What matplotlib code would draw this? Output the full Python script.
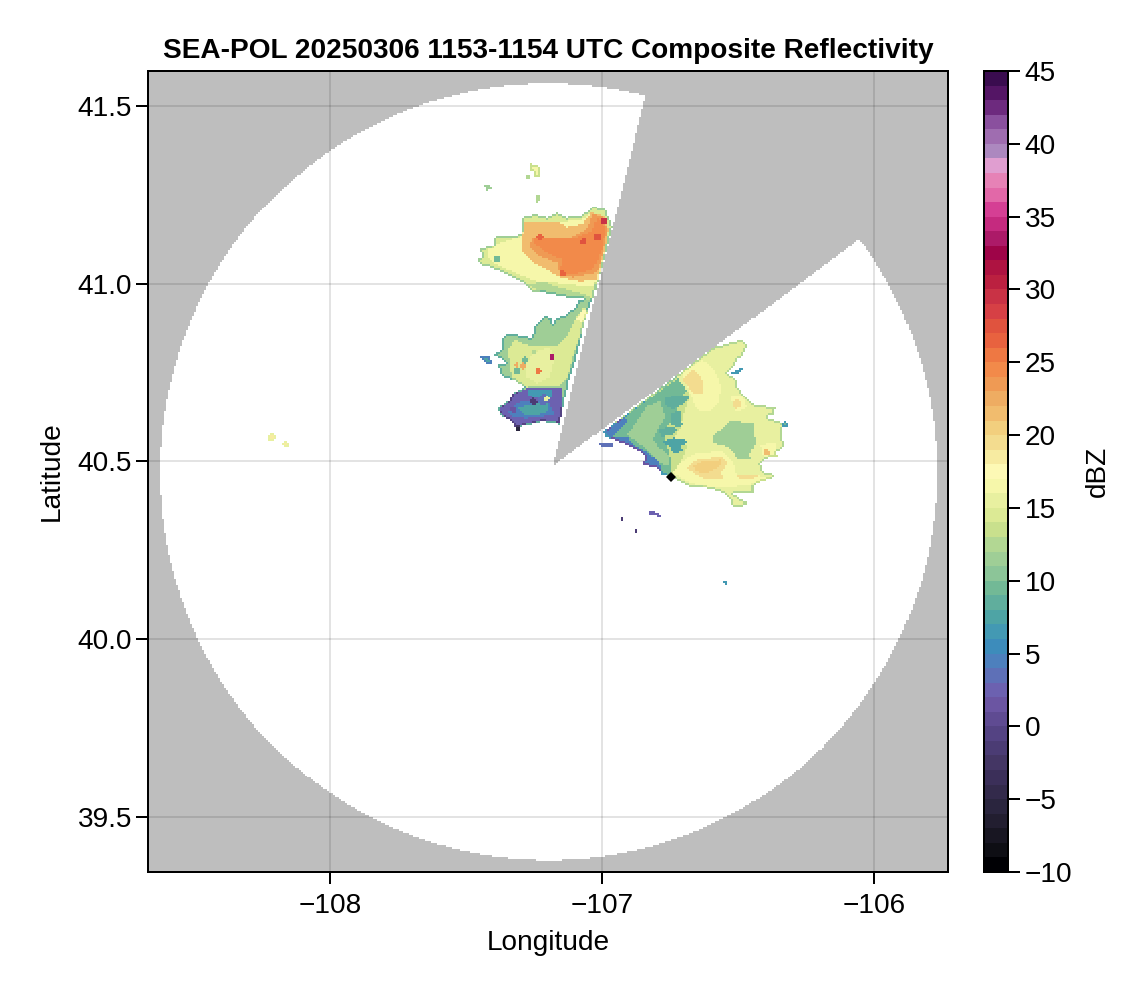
import numpy as np
import matplotlib
matplotlib.use("Agg")
import matplotlib.pyplot as plt
from matplotlib.colors import ListedColormap, BoundaryNorm
from matplotlib.path import Path

plt.rcParams['font.family'] = ['Liberation Sans', 'DejaVu Sans']

TITLE = "SEA-POL 20250306 1153-1154 UTC Composite Reflectivity"
X_TICKS = [-108, -107, -106]
Y_TICKS = [39.5, 40.0, 40.5, 41.0, 41.5]
CB_TICKS = list(range(-10, 50, 5))
XLIM = (-108.669, -105.728)
YLIM = (39.344, 41.5986)

# colour per 1 dBZ bin, from -10 up to 45
BIN_COLORS = [
    "#000004", "#0e0e14", "#181622", "#221e30", "#2a253e",
    "#332a4b", "#3b2f59", "#443664", "#4b3c74", "#544383",
    "#5f4b92", "#6b55a2", "#6c61b0", "#5e70b7", "#4d80bd",
    "#3d8cbb", "#4399b3", "#4ea4a5", "#60ae9d", "#72b996",
    "#8cc598", "#9fce96", "#b2d793", "#c9e08d", "#dcea95",
    "#e8f0a0", "#f6f7aa", "#fdf9b5", "#f7eba1", "#f3dc8f",
    "#f2cf7e", "#f1bc6e", "#eeac62", "#ef9a54", "#f28a4a",
    "#ee7843", "#e8623f", "#e0533e", "#d64045", "#c93245",
    "#bb2040", "#ae1341", "#9e0448", "#ac1a68", "#c52a7f",
    "#d53f94", "#e268a8", "#e682b6", "#e09ed0", "#ac88bf",
    "#9f6db0", "#8a509e", "#6d2a7e", "#541565", "#3a0c4f",
]
DBZ_EDGES = np.arange(-10, 46)

# radar coverage
RADAR_LON, RADAR_LAT = -107.197, 40.47
RANGE_LON, RANGE_LAT = 1.428, 1.093
BLOCK_LON = [-107.180, -106.774, -105.60, -105.60, -105.835]
BLOCK_LAT = [40.487, 41.735, 41.735, 41.248, 41.248]

# north cell
n_base_lon = [-107.033,-106.989,-106.963,-107.033,-107.069,-107.118,-107.165,-107.217,-107.257,-107.290,-107.327,-107.375,-107.419,-107.449,-107.456,-107.438,-107.456,-107.401,-107.401,-107.338,-107.294,-107.290,-107.246,-107.202,-107.165,-107.129,-107.074]
n_base_lat = [41.217,41.208,41.158,40.955,40.960,40.963,40.969,40.977,40.977,41.003,41.017,41.034,41.048,41.054,41.068,41.076,41.101,41.104,41.130,41.132,41.138,41.186,41.194,41.186,41.200,41.186,41.189]
n_low_lon = [-107.272,-107.217,-107.154,-107.044,-107.037,-107.118,-107.217]
n_low_lat = [40.997,41.006,40.989,40.966,40.955,40.961,40.975]
n_pale_lon = [-107.033,-106.982,-107.026,-107.107,-107.180,-107.239,-107.301,-107.364,-107.404,-107.423,-107.423,-107.386,-107.338,-107.290,-107.283,-107.202,-107.129,-107.070]
n_pale_lat = [41.203,41.152,40.992,40.997,41.003,41.006,41.025,41.045,41.059,41.076,41.096,41.110,41.124,41.132,41.175,41.175,41.175,41.180]
n_lt_lon = [-107.037,-106.989,-106.978,-106.989,-107.015,-107.081,-107.154,-107.202,-107.254,-107.290,-107.294,-107.283,-107.235,-107.165,-107.129,-107.070]
n_lt_lat = [41.200,41.189,41.152,41.104,41.011,41.006,41.017,41.039,41.059,41.087,41.132,41.175,41.175,41.175,41.158,41.166]
n_or_lon = [-107.033,-106.996,-106.982,-106.996,-107.018,-107.107,-107.154,-107.165,-107.228,-107.265,-107.257,-107.165,-107.107,-107.055]
n_or_lat = [41.194,41.186,41.152,41.096,41.031,41.017,41.031,41.059,41.076,41.104,41.130,41.130,41.130,41.152]
n_dk_lon = [-107.015,-106.989,-107.000,-107.033,-107.118,-107.154,-107.143,-107.191,-107.246,-107.254,-107.191,-107.099,-107.037]
n_dk_lat = [41.186,41.158,41.096,41.039,41.025,41.039,41.068,41.082,41.110,41.130,41.127,41.127,41.146]
t1_lon = [-107.261,-107.232,-107.228,-107.246,-107.250,-107.261]
t1_lat = [41.338,41.335,41.301,41.301,41.318,41.318]
t2_lon = [-107.283,-107.272,-107.261,-107.272]
t2_lat = [41.299,41.313,41.299,41.293]
t3_lon = [-107.434,-107.419,-107.408,-107.423]
t3_lat = [41.279,41.282,41.270,41.262]
t4_lon = [-107.243,-107.224,-107.232,-107.239]
t4_lat = [41.251,41.248,41.231,41.231]

# middle cell
m_base_lon = [-107.081,-107.037,-107.063,-107.099,-107.118,-107.136,-107.143,-107.154,-107.217,-107.265,-107.320,-107.331,-107.375,-107.382,-107.338,-107.327,-107.290,-107.283,-107.309,-107.357,-107.375,-107.382,-107.357,-107.338,-107.364,-107.401,-107.368,-107.364,-107.349,-107.309,-107.257,-107.246,-107.210,-107.184,-107.184,-107.173,-107.129,-107.099]
m_base_lat = [40.955,40.955,40.890,40.777,40.738,40.673,40.651,40.603,40.611,40.603,40.594,40.611,40.631,40.651,40.673,40.693,40.707,40.721,40.730,40.735,40.752,40.772,40.777,40.766,40.786,40.800,40.814,40.848,40.862,40.856,40.848,40.879,40.910,40.904,40.879,40.899,40.913,40.932]
m_lime_lon = [-107.063,-107.051,-107.074,-107.107,-107.125,-107.154,-107.228,-107.276,-107.327,-107.338,-107.346,-107.320,-107.257,-107.165,-107.129,-107.099]
m_lime_lat = [40.935,40.927,40.862,40.794,40.738,40.715,40.715,40.710,40.730,40.766,40.814,40.842,40.823,40.823,40.851,40.899]
m_p1_lon = [-107.070,-107.051,-107.070,-107.092]
m_p1_lat = [40.927,40.921,40.890,40.899]
m_p2_lon = [-107.254,-107.191,-107.173,-107.191,-107.239,-107.276,-107.276]
m_p2_lat = [40.806,40.823,40.794,40.738,40.721,40.738,40.777]
m_purple_lon = [-107.331,-107.276,-107.147,-107.143,-107.154,-107.217,-107.265,-107.320,-107.331,-107.371,-107.379,-107.338]
m_purple_lat = [40.687,40.707,40.707,40.654,40.608,40.614,40.606,40.597,40.611,40.631,40.648,40.670]
m_blue_lon = [-107.346,-107.313,-107.257,-107.199,-107.184,-107.173,-107.228,-107.283,-107.327]
m_blue_lat = [40.639,40.665,40.668,40.673,40.645,40.631,40.625,40.620,40.625]
m_teal_lon = [-107.309,-107.257,-107.199,-107.195,-107.235,-107.283]
m_teal_lat = [40.651,40.659,40.665,40.639,40.631,40.631]
m_top_lon = [-107.276,-107.180,-107.184,-107.254,-107.272]
m_top_lat = [40.704,40.704,40.679,40.682,40.687]
m_isle_lon = [-107.449,-107.419,-107.401,-107.423]
m_isle_lat = [40.794,40.800,40.777,40.777]

# east cell
e_base_lon = [-106.996,-106.592,-106.529,-106.485,-106.463,-106.482,-106.504,-106.518,-106.537,-106.504,-106.500,-106.445,-106.364,-106.371,-106.401,-106.353,-106.338,-106.335,-106.371,-106.390,-106.419,-106.412,-106.364,-106.371,-106.437,-106.445,-106.522,-106.493,-106.463,-106.482,-106.518,-106.529,-106.548,-106.614,-106.676,-106.702,-106.750,-106.779,-106.798,-106.849,-106.842,-106.886,-106.923,-106.960,-106.989]
e_base_lat = [40.583,40.820,40.834,40.842,40.828,40.800,40.786,40.763,40.749,40.730,40.707,40.659,40.651,40.631,40.623,40.611,40.603,40.541,40.518,40.510,40.496,40.470,40.462,40.454,40.439,40.411,40.411,40.397,40.383,40.372,40.372,40.397,40.411,40.425,40.428,40.439,40.456,40.462,40.482,40.490,40.518,40.538,40.552,40.561,40.569]
e_tr_lon = [-106.728,-106.676,-106.695,-106.713,-106.743,-106.684,-106.713,-106.743,-106.800,-106.800]
e_tr_lat = [40.741,40.687,40.645,40.589,40.561,40.546,40.490,40.456,40.480,40.700]
e_teal_lon = [-106.996,-106.721,-106.688,-106.713,-106.739,-106.776,-106.743,-106.743,-106.779,-106.798,-106.849,-106.842,-106.886,-106.960,-106.989]
e_teal_lat = [40.583,40.735,40.701,40.673,40.617,40.580,40.496,40.456,40.462,40.482,40.490,40.518,40.538,40.561,40.569]
e_blue_lon = [-106.989,-106.923,-106.904,-106.963,-106.908,-106.886,-106.831,-106.794,-106.776,-106.798,-106.849,-106.842,-106.886,-106.960]
e_blue_lat = [40.583,40.623,40.617,40.566,40.569,40.546,40.524,40.499,40.468,40.482,40.490,40.518,40.538,40.561]
e_lg_lon = [-106.886,-106.835,-106.787,-106.768,-106.794,-106.812,-106.794,-106.757,-106.750,-106.794,-106.835,-106.886,-106.908]
e_lg_lat = [40.597,40.654,40.668,40.625,40.589,40.561,40.541,40.518,40.484,40.499,40.532,40.561,40.575]
e_q1_lon = [-106.768,-106.713,-106.676,-106.702,-106.739,-106.768]
e_q1_lat = [40.679,40.687,40.682,40.659,40.645,40.659]
e_q2_lon = [-106.743,-106.713,-106.713,-106.665,-106.695,-106.724,-106.743]
e_q2_lat = [40.637,40.639,40.603,40.617,40.603,40.594,40.603]
e_q3_lon = [-106.794,-106.743,-106.724,-106.739,-106.779]
e_q3_lat = [40.589,40.597,40.589,40.575,40.569]
e_q4_lon = [-106.779,-106.739,-106.695,-106.688,-106.713,-106.702,-106.739,-106.750]
e_q4_lat = [40.552,40.566,40.561,40.552,40.541,40.527,40.524,40.541]
e_green_lon = [-106.592,-106.529,-106.445,-106.437,-106.456,-106.449,-106.504,-106.511,-106.540,-106.592]
e_green_lat = [40.569,40.611,40.608,40.552,40.518,40.504,40.504,40.524,40.541,40.552]
e_mid_lon = [-106.688,-106.640,-106.603,-106.592,-106.640,-106.688,-106.706]
e_mid_lat = [40.645,40.637,40.631,40.597,40.569,40.561,40.608]
e_ne_lon = [-106.706,-106.629,-106.585,-106.559,-106.574,-106.603,-106.651,-106.676]
e_ne_lat = [40.752,40.786,40.758,40.710,40.659,40.637,40.645,40.693]
e_ne2_lon = [-106.702,-106.665,-106.629,-106.629,-106.665]
e_ne2_lat = [40.730,40.763,40.730,40.693,40.693]
e_r1_lon = [-106.529,-106.482,-106.467,-106.504]
e_r1_lat = [40.682,40.687,40.651,40.639]
e_r2_lon = [-106.419,-106.364,-106.357,-106.408]
e_r2_lat = [40.546,40.552,40.510,40.510]
e_s1_lon = [-106.739,-106.713,-106.651,-106.555,-106.518,-106.504,-106.371,-106.430,-106.518,-106.614,-106.676]
e_s1_lat = [40.468,40.496,40.524,40.527,40.499,40.462,40.456,40.439,40.428,40.428,40.439]
e_s2_lon = [-106.688,-106.651,-106.555,-106.537,-106.559,-106.555,-106.614,-106.665]
e_s2_lat = [40.482,40.504,40.513,40.496,40.468,40.448,40.448,40.468]
e_s3_lon = [-106.665,-106.629,-106.559,-106.566,-106.614,-106.651]
e_s3_lat = [40.485,40.499,40.504,40.485,40.468,40.470]
e_s4_lon = [-106.504,-106.430,-106.430,-106.493]
e_s4_lat = [40.462,40.462,40.454,40.448]
e_isle1_lon = [-106.522,-106.482,-106.485,-106.518]
e_isle1_lat = [40.752,40.766,40.752,40.744]
e_isle2_lon = [-107.018,-106.963,-106.963,-107.007]
e_isle2_lat = [40.552,40.552,40.541,40.541]
s_arc_lon = [-106.831,-106.805,-106.787,-106.783,-106.794,-106.798,-106.824]
s_arc_lat = [40.358,40.358,40.349,40.341,40.341,40.349,40.349]

# (lon list, lat list, dBZ) painted in order
REGIONS = [
    (n_base_lon, n_base_lat, 14.5), (n_low_lon, n_low_lat, 12.5),
    (n_pale_lon, n_pale_lat, 16.5), (n_lt_lon, n_lt_lat, 21.5),
    (n_or_lon, n_or_lat, 23.5), (n_dk_lon, n_dk_lat, 24.5),
    (t1_lon, t1_lat, 16.5), (t2_lon, t2_lat, 15.5),
    (t3_lon, t3_lat, 14.5), (t4_lon, t4_lat, 15.5),
    (m_base_lon, m_base_lat, 11.5), (m_lime_lon, m_lime_lat, 14.5),
    (m_p1_lon, m_p1_lat, 17.5), (m_p2_lon, m_p2_lat, 15.5),
    (m_purple_lon, m_purple_lat, 2.5), (m_blue_lon, m_blue_lat, 4.5),
    (m_teal_lon, m_teal_lat, 7.5), (m_top_lon, m_top_lat, 6.5),
    (m_isle_lon, m_isle_lat, 7.5),
    (e_base_lon, e_base_lat, 15.5), (e_tr_lon, e_tr_lat, 13.5),
    (e_teal_lon, e_teal_lat, 9.5),
    (e_lg_lon, e_lg_lat, 11.5), (e_blue_lon, e_blue_lat, 4.5),
    (e_q1_lon, e_q1_lat, 8.5), (e_q2_lon, e_q2_lat, 8.5),
    (e_q3_lon, e_q3_lat, 8.5), (e_q4_lon, e_q4_lat, 7.5),
    (e_green_lon, e_green_lat, 11.5), (e_mid_lon, e_mid_lat, 15.5),
    (e_ne_lon, e_ne_lat, 16.5), (e_ne2_lon, e_ne2_lat, 19.5),
    (e_r1_lon, e_r1_lat, 16.5), (e_r2_lon, e_r2_lat, 16.5),
    (e_s1_lon, e_s1_lat, 16.5), (e_s2_lon, e_s2_lat, 19.5),
    (e_s3_lon, e_s3_lat, 20.5), (e_s4_lon, e_s4_lat, 19.5),
    (e_isle1_lon, e_isle1_lat, 9.5), (e_isle2_lon, e_isle2_lat, 6.5),
    (s_arc_lon, s_arc_lat, 5.5),
]

# small round echoes
spot_lon = [-106.996,-107.066,-107.015,-107.143,-107.228,-107.184,-107.232,-107.290,-107.316,-107.283,-107.313,-107.213,-107.250,-107.327,-107.309,-107.386,
            -106.504,-106.397,-106.328,-106.926,-106.878,-106.544,-108.213,-108.162,-107.250,-107.202]
spot_lat = [41.175,41.118,41.130,41.028,41.130,40.794,40.755,40.769,40.772,40.786,40.755,40.673,40.668,40.645,40.592,41.070,
            40.661,40.524,40.603,40.338,40.304,40.161,40.566,40.546,40.806,40.676]
spot_dbz = [29.5,27.5,27.5,26.5,26.5,33.5,25.5,22.5,22.5,9.5,9.5,3.5,-1.5,1.5,-2.5,9.5,
            19.5,21.5,9.5,1.5,1.5,9.5,18.5,18.5,12.5,15.5]
spot_rad = [0.012,0.012,0.012,0.012,0.012,0.01,0.01,0.012,0.008,0.012,0.012,0.02,0.012,0.012,0.01,0.012,
            0.016,0.012,0.01,0.005,0.005,0.008,0.014,0.010,0.008,0.01]

MARK_LON, MARK_LAT = -106.746, 40.456

# raster grid of the gridded radar product
STEP_LON, STEP_LAT = 0.0074, 0.0056
lon_e = np.arange(-108.70, -105.70, STEP_LON)
lat_e = np.arange(39.33, 41.62, STEP_LAT)
lon_c = 0.5 * (lon_e[:-1] + lon_e[1:])
lat_c = 0.5 * (lat_e[:-1] + lat_e[1:])
LON, LAT = np.meshgrid(lon_c, lat_c)
pts = np.column_stack([LON.ravel(), LAT.ravel()])

inside = ((LON - RADAR_LON) / RANGE_LON) ** 2 + ((LAT - RADAR_LAT) / RANGE_LAT) ** 2 <= 1
blocked = Path(np.column_stack([BLOCK_LON, BLOCK_LAT])).contains_points(pts).reshape(LON.shape)
coverage = np.where(inside & ~blocked, 1.0, np.nan)

Z = np.full(LON.shape, np.nan)
for rlon, rlat, val in REGIONS:
    m = Path(np.column_stack([rlon, rlat])).contains_points(pts).reshape(LON.shape)
    Z[m] = val
for slon, slat, val, r in zip(spot_lon, spot_lat, spot_dbz, spot_rad):
    m = ((LON - slon) / r) ** 2 + ((LAT - slat) / (r * 0.78)) ** 2 <= 1
    Z[m] = val

# cells at an echo's rim read lower
has = np.isfinite(Z)
core = has.copy()
core[1:-1, 1:-1] = has[1:-1, 1:-1] & has[:-2, 1:-1] & has[2:, 1:-1] & has[1:-1, :-2] & has[1:-1, 2:]
rim = has & ~core
Z[rim] = Z[rim] - 3
Z[~np.isfinite(coverage)] = np.nan

W, H = 1146, 990
fig = plt.figure(figsize=(W / 200, H / 200), dpi=200)
ax = fig.add_axes([148 / W, 1 - 872 / H, 800 / W, 801 / H])
ax.set_facecolor("#bebebe")
ax.pcolormesh(lon_e, lat_e, coverage, cmap=ListedColormap(["white"]), vmin=0, vmax=2,
              shading="flat", antialiased=False, zorder=1)
ax.set_axisbelow(False)
ax.grid(True, color="black", alpha=0.11, lw=0.72, zorder=2)
cmap = ListedColormap(BIN_COLORS)
norm = BoundaryNorm(DBZ_EDGES, cmap.N)
mesh = ax.pcolormesh(lon_e, lat_e, np.ma.masked_invalid(Z), cmap=cmap, norm=norm,
                     shading="flat", antialiased=False, zorder=3)
ax.plot([MARK_LON], [MARK_LAT], marker="D", ms=2.3, color="black", mew=0, ls="none", zorder=4)

ax.set_xlim(*XLIM)
ax.set_ylim(*YLIM)
ax.set_xticks(X_TICKS)
ax.set_yticks(Y_TICKS)
ax.set_xticklabels(["\u2212108", "\u2212107", "\u2212106"])
ax.set_yticklabels([f"{v:.1f}" for v in Y_TICKS])
FS = 10.1
ax.tick_params(length=4.2, width=0.72, labelsize=FS, pad=1.6, color="black")
ax.tick_params(axis="x", pad=3.4)
for s in ax.spines.values():
    s.set_linewidth(0.72)
ax.set_xlabel("Longitude", fontsize=FS, labelpad=4.0)
ax.set_ylabel("Latitude", fontsize=FS, labelpad=4.5)
ax.set_title(TITLE, fontsize=FS, fontweight="bold", pad=4.7)

cax = fig.add_axes([984 / W, 1 - 872 / H, 24 / W, 801 / H])
cb = fig.colorbar(mesh, cax=cax, ticks=CB_TICKS, spacing="proportional")
cb.ax.set_yticklabels([str(v).replace("-", "\u2212") for v in CB_TICKS])
cb.ax.tick_params(length=4.2, width=0.72, labelsize=FS, pad=1.8)
cb.ax.minorticks_off()
cb.outline.set_linewidth(0.72)
cb.set_label("dBZ", fontsize=FS, labelpad=4.5)

fig.savefig("out.png", dpi=200)
